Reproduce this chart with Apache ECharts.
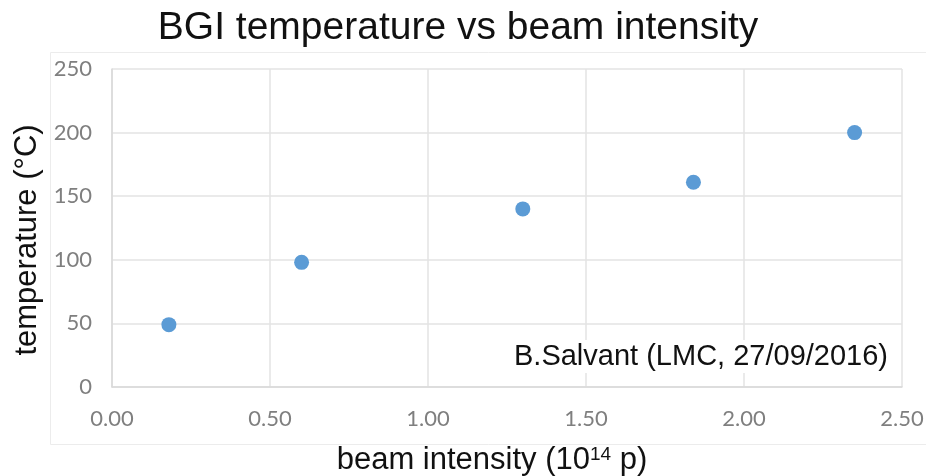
<!DOCTYPE html>
<html>
<head>
<meta charset="utf-8">
<script src="https://cdn.jsdelivr.net/npm/echarts@6/dist/echarts.min.js"></script>
<style>
  html, body { margin: 0; padding: 0; background: #fff; }
  #chart { width: 926px; height: 476px; }
</style>
</head>
<body>
<div id="chart"></div>
<script>
// beam intensity (1e14 p) and temperature (degC)
var intensity = [0.18, 0.60, 1.30, 1.84, 2.35];
var temperature = [49, 98, 140, 161, 200];
var xTicks = ['0.00', '0.50', '1.00', '1.50', '2.00', '2.50'];

var points = intensity.map(function (x, i) { return [x, temperature[i]]; });

var chart = echarts.init(document.getElementById('chart'));
var option = {
    animation: false,
    backgroundColor: '#fff',
    title: {
        text: 'BGI temperature vs beam intensity',
        left: 453,
        textAlign: 'center',
        top: 4,
        textStyle: {
            fontFamily: 'Liberation Sans',
            fontWeight: 'normal',
            fontSize: 39,
            color: '#111'
        }
    },
    graphic: [
        {
            type: 'rect',
            left: 48,
            top: 50,
            shape: { width: 900, height: 392 },
            style: { fill: 'none', stroke: '#ececec', lineWidth: 1 },
            z: 0
        },
        {
            type: 'text',
            left: 512,
            top: 340,
            z: 10,
            style: {
                text: 'B.Salvant (LMC, 27/09/2016)',
                font: '29px "Liberation Sans"',
                fill: '#111',
                backgroundColor: '#fff',
                padding: [2, 2, 2, 2]
            }
        }
    ],
    grid: {
        left: 112,
        right: 24,
        top: 69,
        bottom: 89,
        outerBoundsMode: 'none'
    },
    xAxis: {
        type: 'value',
        min: 0,
        max: 2.5,
        interval: 0.5,
        name: 'beam intensity (10{sup|14} p)',
        nameLocation: 'middle',
        nameGap: 58,
        nameTextStyle: {
            fontFamily: 'Liberation Sans',
            fontSize: 31,
            color: '#111',
            padding: [0, 30, 0, 0],
            rich: {
                sup: {
                    fontFamily: 'Liberation Sans',
                    fontSize: 19,
                    color: '#111',
                    verticalAlign: 'top',
                    padding: [0, 0, 12, 0]
                }
            }
        },
        axisLine: { show: true, lineStyle: { color: '#d9d9d9', width: 1.5 } },
        axisTick: { show: false },
        splitLine: { show: true, lineStyle: { color: '#e3e3e3', width: 1.5 } },
        axisLabel: {
            margin: 21,
            fontFamily: 'Lato',
            fontSize: 22,
            color: '#7f7f7f',
            formatter: function (v) { return xTicks[Math.round(v / 0.5)]; }
        }
    },
    yAxis: {
        type: 'value',
        min: 0,
        max: 250,
        interval: 50,
        name: 'temperature (°C)',
        nameLocation: 'middle',
        nameGap: 68,
        nameTextStyle: {
            fontFamily: 'Liberation Sans',
            fontSize: 31,
            color: '#111',
            padding: [0, 24, 0, 0]
        },
        axisLine: { show: true, lineStyle: { color: '#d9d9d9', width: 1.5 } },
        axisTick: { show: false },
        splitLine: { show: true, lineStyle: { color: '#e3e3e3', width: 1.5 } },
        axisLabel: {
            margin: 20,
            fontFamily: 'Lato',
            fontSize: 22,
            color: '#7f7f7f'
        }
    },
    series: [
        {
            type: 'scatter',
            data: points,
            symbol: 'circle',
            symbolSize: 15,
            itemStyle: { color: '#5b9bd5', opacity: 1 },
            z: 5
        }
    ]
};
chart.setOption(option);
</script>
</body>
</html>
